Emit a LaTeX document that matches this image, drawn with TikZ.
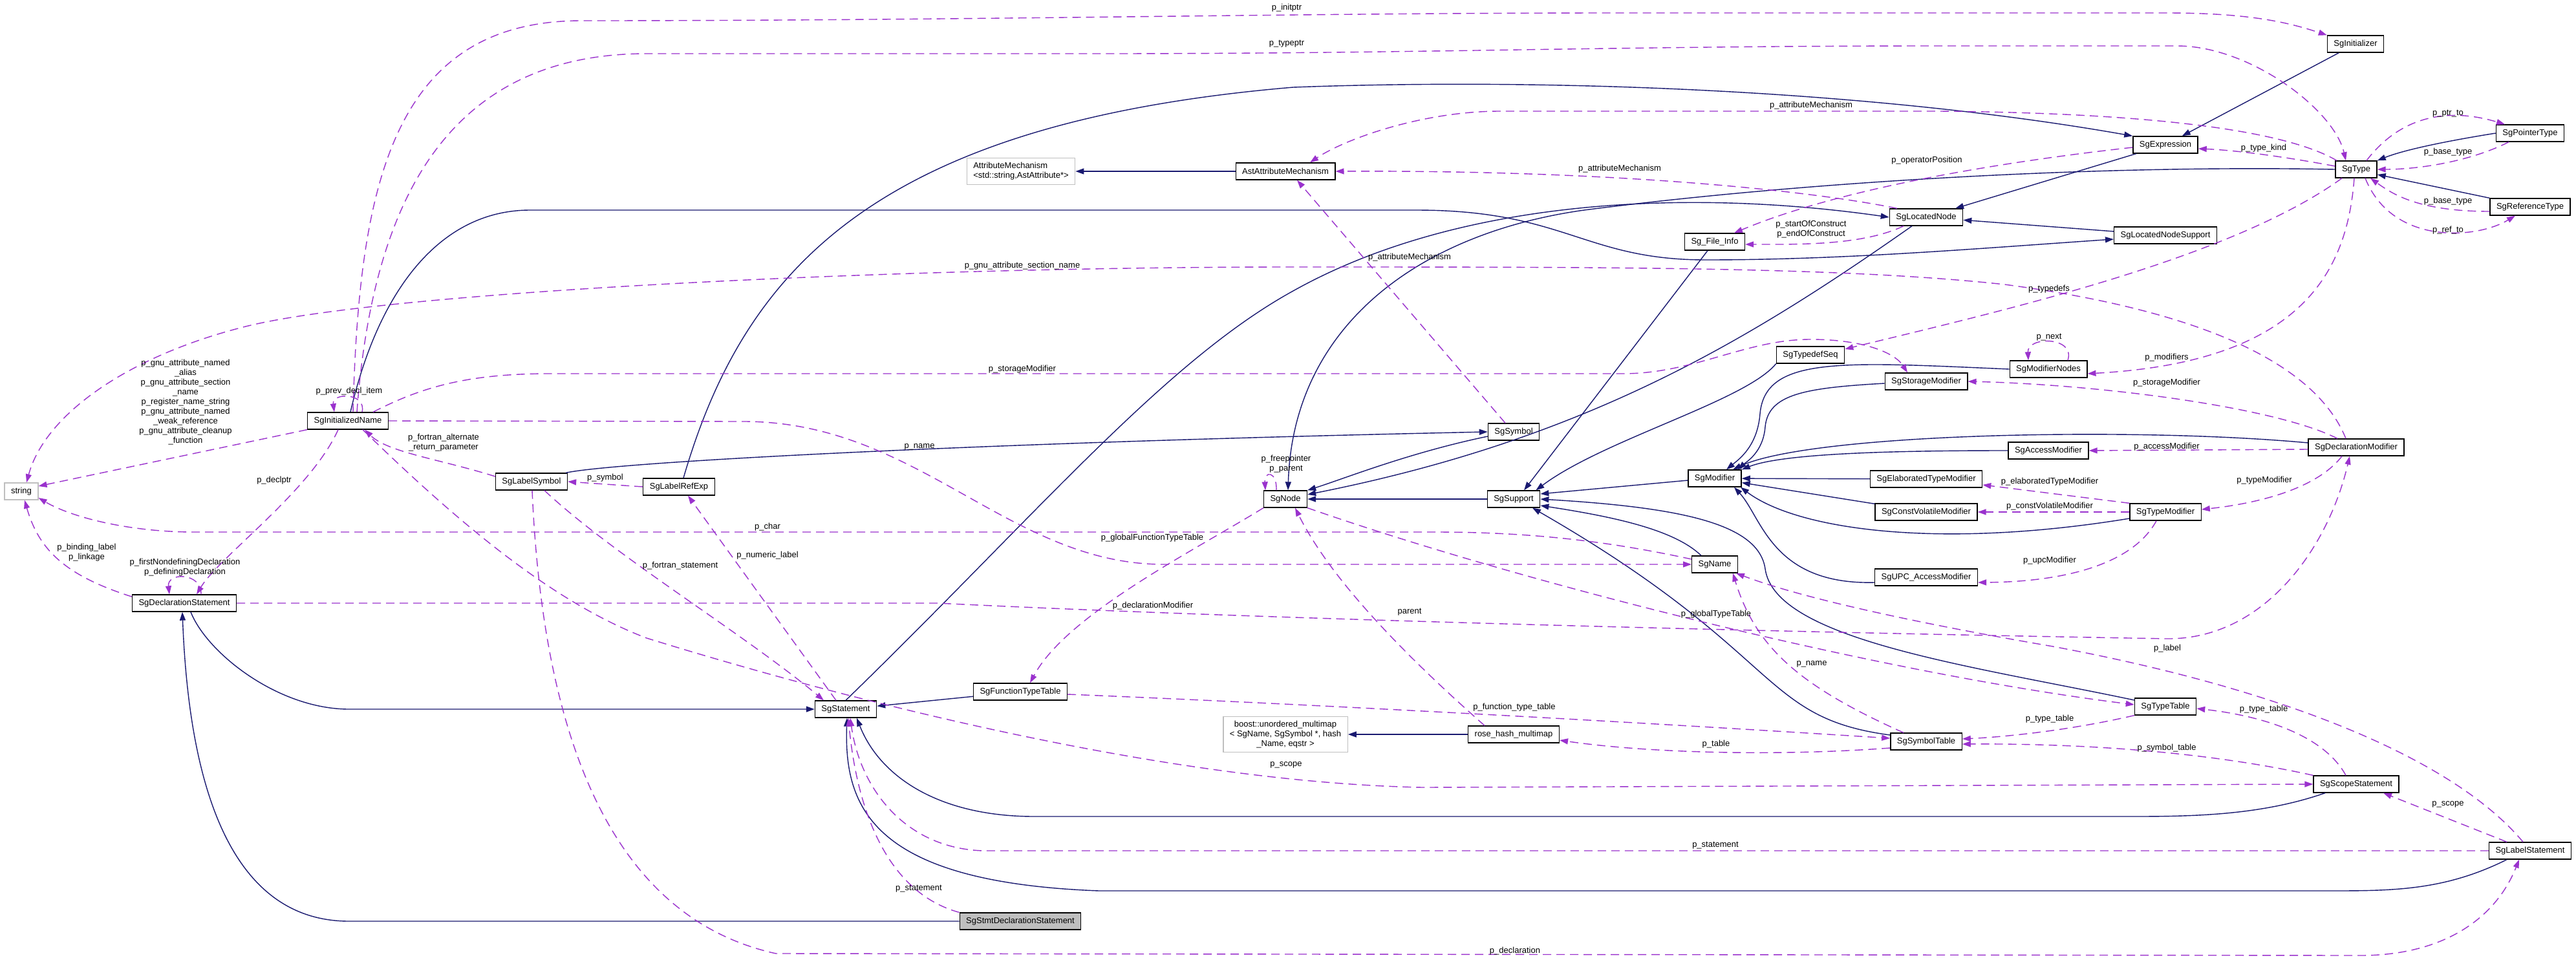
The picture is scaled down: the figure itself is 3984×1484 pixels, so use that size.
\documentclass[tikz,border=0pt]{standalone}
\usepackage{fontspec}
\setmainfont{Liberation Sans}
\usetikzlibrary{arrows.meta}
\definecolor{inhblue}{HTML}{191970}
\definecolor{usepurple}{HTML}{9A32CD}
\definecolor{extgray}{HTML}{BFBFBF}
\begin{document}
\begin{tikzpicture}[x=1pt, y=-1pt, every node/.style={font=\fontsize{13}{15}\selectfont},
  classbox/.style={draw=black, line width=1.3pt, fill=white, inner xsep=10pt, inner ysep=2pt, minimum height=26pt},
  extbox/.style={classbox, draw=extgray},
  focusbox/.style={classbox, fill=extgray},
  inheritedge/.style={draw=inhblue, line width=1.4pt, -{Triangle[length=13pt,width=9pt]}},
  useedge/.style={draw=usepurple, line width=1.4pt, dash pattern=on 13pt off 8pt, -{Triangle[length=13pt,width=9pt]}},
  edgelabel/.style={align=center, inner sep=0pt}]
  \fill[white] (0,0) rectangle (3984,1484);
  \useasboundingbox (0,0) rectangle (3984,1484);

  \node[focusbox] (stmtdecl) at (1578,1425) {SgStmtDeclarationStatement};
  \node[classbox] (declstmt) at (285,933) {SgDeclarationStatement};
  \node[classbox] (stmt) at (1308,1097) {SgStatement};
  \node[classbox] (located) at (2979,336) {SgLocatedNode};
  \node[classbox] (locsupport) at (3349,364) {SgLocatedNodeSupport};
  \node[classbox] (expr) at (3349,224) {SgExpression};
  \node[classbox] (init) at (3643,68) {SgInitializer};
  \node[classbox] (type) at (3644,262) {SgType};
  \node[classbox] (ptrtype) at (3913,206) {SgPointerType};
  \node[classbox] (reftype) at (3913,320) {SgReferenceType};
  \node[classbox] (fileinfo) at (2652,374) {Sg\_File\_Info};
  \node[classbox] (astattr) at (1988,265) {AstAttributeMechanism};
  \node[extbox, align=left, minimum height=41pt] (attrmech) at (1579,265) {AttributeMechanism\\<std::string,AstAttribute*>};
  \node[extbox] (str) at (33,760) {string};
  \node[classbox] (initname) at (538,651) {SgInitializedName};
  \node[classbox] (labelsym) at (822,745) {SgLabelSymbol};
  \node[classbox] (labelref) at (1050,753) {SgLabelRefExp};
  \node[classbox] (sgnode) at (1988,772) {SgNode};
  \node[classbox] (symbol) at (2341,668) {SgSymbol};
  \node[classbox] (support) at (2341,772) {SgSupport};
  \node[classbox] (typedefseq) at (2800,549) {SgTypedefSeq};
  \node[classbox] (storagemod) at (2979,590) {SgStorageModifier};
  \node[classbox] (modifier) at (2652,740) {SgModifier};
  \node[classbox] (elabmod) at (2979,741) {SgElaboratedTypeModifier};
  \node[classbox] (cvmod) at (2979,792) {SgConstVolatileModifier};
  \node[classbox] (sgname) at (2652,873) {SgName};
  \node[classbox] (upcmod) at (2979,893) {SgUPC\_AccessModifier};
  \node[classbox] (modnodes) at (3168,571) {SgModifierNodes};
  \node[classbox] (accessmod) at (3168,697) {SgAccessModifier};
  \node[classbox] (typemod) at (3349,792) {SgTypeModifier};
  \node[classbox] (declmod) at (3644,692) {SgDeclarationModifier};
  \node[classbox] (functable) at (1578,1070) {SgFunctionTypeTable};
  \node[extbox, align=center, minimum height=55pt] (boostmap) at (1988,1136) {boost::unordered\_multimap\\< SgName, SgSymbol *, hash\\\_Name, eqstr >};
  \node[classbox] (rosemap) at (2341,1136) {rose\_hash\_multimap};
  \node[classbox] (symtable) at (2979,1147) {SgSymbolTable};
  \node[classbox] (typetable) at (3349,1093) {SgTypeTable};
  \node[classbox] (scopestmt) at (3644,1213) {SgScopeStatement};
  \node[classbox] (labelstmt) at (3913,1316) {SgLabelStatement};

  \draw[inheritedge] (stmtdecl.west) -- (540,1425) .. controls (330,1425) and (290,1150) .. ([xshift=-3pt]declstmt.south);
  \draw[inheritedge] ([xshift=10pt]declstmt.south) .. controls (320,1010) and (430,1097) .. (540,1097) -- (stmt.west);
  \draw[inheritedge] (stmt.north) .. controls (1600,800) and (1800,560) .. (2000,450) .. controls (2250,310) and (2600,290) .. (located.west);
  \draw[inheritedge] (expr) -- (located);
  \draw[inheritedge] (locsupport) -- (located);
  \draw[inheritedge] ([xshift=4pt]initname.north) .. controls (585,450) and (680,325) .. (820,325) -- (2190,325) .. controls (2420,325) and (2450,402) .. (2638,402) .. controls (2850,402) and (3050,385) .. ([yshift=-6pt]locsupport.west);
  \draw[inheritedge] (init) -- (expr);
  \draw[inheritedge] ([xshift=-22pt]located.south) .. controls (2700,530) and (2450,680) .. ([yshift=7pt]sgnode.east);
  \draw[inheritedge] (type.west) .. controls (3250,255) and (2800,280) .. (2450,325) .. controls (2200,360) and (2000,500) .. ([xshift=4pt]sgnode.north);
  \draw[inheritedge] ([yshift=-7pt]symbol.west) .. controls (2180,700) and (2080,740) .. (sgnode.north east);
  \draw[inheritedge] (support) -- (sgnode);
  \draw[inheritedge] ([xshift=7pt]labelref.north) .. controls (1150,420) and (1350,190) .. (2000,135) .. controls (2400,120) and (2900,140) .. (expr.north west);
  \draw[inheritedge] ([xshift=-3pt]labelsym.north east) .. controls (950,715) and (1500,685) .. (symbol.west);
  \draw[inheritedge] (ptrtype.west) .. controls (3760,222) and (3710,235) .. (type.north east);
  \draw[inheritedge] (reftype.north west) -- ([yshift=-8pt]type.east);
  \draw[inheritedge] ([xshift=-11pt]fileinfo.south) -- ([xshift=16pt]support.north);
  \draw[inheritedge] (typedefseq.south west) .. controls (2700,620) and (2480,680) .. ([xshift=-7pt]support.north east);
  \draw[inheritedge] ([yshift=-3pt]modifier.west) -- ([yshift=8pt]support.east);
  \draw[inheritedge] (modnodes.west) .. controls (2850,560) and (2730,550) .. (2722,640) .. controls (2718,690) and (2690,710) .. ([xshift=18pt]modifier.north);
  \draw[inheritedge] ([yshift=-3pt]storagemod.west) .. controls (2790,600) and (2735,610) .. (2730,660) .. controls (2727,700) and (2700,715) .. ([xshift=36pt]modifier.north);
  \draw[inheritedge] (accessmod.west) .. controls (2950,697) and (2760,700) .. (modifier.north east);
  \draw[inheritedge] (elabmod) -- (modifier);
  \draw[inheritedge] (cvmod) -- (modifier);
  \draw[inheritedge] ([yshift=-8pt]upcmod.west) .. controls (2740,905) and (2725,800) .. ([xshift=30pt]modifier.south);
  \draw[inheritedge] ([yshift=-10pt]typemod.west) .. controls (3000,850) and (2780,820) .. ([xshift=40pt]modifier.south);
  \draw[inheritedge] ([yshift=7pt]declmod.west) .. controls (3300,660) and (2800,670) .. ([xshift=28pt]modifier.north);
  \draw[inheritedge] ([xshift=-21pt]sgname.north) .. controls (2590,820) and (2500,800) .. ([yshift=-10pt]support.east);
  \draw[inheritedge] (functable) -- (stmt);
  \draw[inheritedge] ([yshift=10pt]symtable.west) .. controls (2720,1110) and (2760,1010) .. ([xshift=29pt]support.south);
  \draw[inheritedge] ([yshift=10pt]typetable.west) .. controls (3050,1030) and (2745,990) .. (2730,880) .. controls (2720,810) and (2600,785) .. (support.east);
  \draw[inheritedge] ([xshift=-48pt]scopestmt.south) .. controls (3500,1260) and (3400,1263) .. (3300,1263) -- (1600,1263) .. controls (1450,1263) and (1360,1200) .. ([xshift=17pt]stmt.south);
  \draw[inheritedge] ([xshift=-36pt]labelstmt.south) .. controls (3780,1378) and (3700,1378) .. (3600,1378) -- (1700,1378) .. controls (1350,1365) and (1305,1250) .. ([xshift=2pt]stmt.south);
  \draw[inheritedge] (rosemap) -- (boostmap);
  \draw[inheritedge] (astattr) -- (attrmech);

  \draw[useedge] ([xshift=8pt]initname.north) .. controls (555,280) and (610,32) .. (900,32) .. controls (1500,32) and (2000,20) .. (2500,20) -- (3350,20) .. controls (3480,20) and (3540,35) .. (init.north west);
  \draw[useedge] ([xshift=14pt]initname.north) .. controls (575,330) and (680,83) .. (1000,83) -- (1700,83) .. controls (2200,83) and (2500,71) .. (3000,71) -- (3367,71) .. controls (3480,71) and (3610,170) .. ([xshift=-16pt]type.north);
  \draw[useedge] ([xshift=-30pt]type.north) .. controls (3540,205) and (3350,175) .. (3000,172) -- (2320,172) .. controls (2200,172) and (2080,215) .. ([xshift=38pt]astattr.north);
  \draw[useedge] ([xshift=-45pt]located.north) .. controls (2800,295) and (2500,263) .. (astattr.east);
  \draw[useedge] ([xshift=-13pt]symbol.north) -- ([xshift=18pt]astattr.south);
  \draw[useedge] ([yshift=-4pt]expr.west) .. controls (3100,250) and (2850,290) .. ([xshift=30pt]fileinfo.north);
  \draw[useedge] ([xshift=-35pt]located.south) .. controls (2880,380) and (2780,378) .. ([yshift=-4pt]fileinfo.east);
  \draw[useedge] ([xshift=-16pt]declmod.north) .. controls (3580,560) and (3400,480) .. (3100,440) .. controls (2850,413) and (2500,413) .. (2000,413) .. controls (1400,413) and (600,450) .. (380,505) .. controls (200,550) and (70,640) .. ([xshift=8pt]str.north);
  \draw[useedge] ([xshift=-22pt]type.south) .. controls (3450,400) and (3100,480) .. ([yshift=9pt]typedefseq.east);
  \draw[useedge] ([xshift=39pt]initname.north) .. controls (650,600) and (720,578) .. (850,578) -- (2510,578) .. controls (2620,578) and (2700,525) .. (2800,525) .. controls (2880,525) and (2930,545) .. ([xshift=-29pt]storagemod.north);
  \draw[useedge] ([xshift=-29pt]declmod.north) .. controls (3520,630) and (3250,595) .. (storagemod.east);
  \draw[useedge] ([xshift=30pt]modnodes.north) .. controls (3210,520) and (3135,520) .. ([xshift=-31pt]modnodes.north);
  \draw[useedge] ([xshift=-3pt]type.south) .. controls (3630,420) and (3560,560) .. ([yshift=-7pt]modnodes.east);
  \draw[useedge] ([yshift=-3pt]declmod.west) -- (accessmod.east);
  \draw[useedge] ([xshift=-22pt]declmod.south) .. controls (3580,760) and (3480,780) .. ([yshift=4pt]typemod.east);
  \draw[useedge] (typemod.north west) -- ([yshift=-9pt]elabmod.east);
  \draw[useedge] (typemod.west) -- (cvmod.east);
  \draw[useedge] ([xshift=-14pt]typemod.south) .. controls (3300,870) and (3200,900) .. ([yshift=-8pt]upcmod.east);
  \draw[useedge] ([xshift=-11pt]labelstmt.north) .. controls (3800,1180) and (3550,1070) .. (3175,1000) .. controls (3000,970) and (2800,930) .. ([xshift=-3pt]sgname.south east);
  \draw[useedge] (declstmt.east) -- (1450,933) .. controls (1900,955) and (2600,975) .. (3350,988) .. controls (3500,990) and (3600,850) .. ([xshift=-10pt]declmod.south);
  \draw[useedge] ([xshift=1pt]labelsym.south) .. controls (840,1150) and (950,1420) .. (1200,1475) -- (3650,1478) .. controls (3780,1478) and (3860,1420) .. ([xshift=-17pt]labelstmt.south);
  \draw[useedge] (labelstmt.west) -- (1520,1316) .. controls (1400,1312) and (1330,1220) .. ([xshift=7pt]stmt.south);
  \draw[useedge] (stmtdecl.north west) .. controls (1370,1380) and (1325,1250) .. ([xshift=4pt]stmt.south);
  \draw[useedge] ([xshift=-36pt]labelstmt.north) -- ([xshift=42pt]scopestmt.south);
  \draw[useedge] ([xshift=23pt]initname.south) .. controls (700,800) and (850,930) .. (1000,987) .. controls (1300,1080) and (1800,1210) .. (2200,1218) -- (scopestmt.west);
  \draw[useedge] ([xshift=-15pt]initname.south) .. controls (480,760) and (340,860) .. ([xshift=19pt]declstmt.north);
  \draw[useedge] ([xshift=26pt]declstmt.north) .. controls (312,885) and (258,885) .. ([xshift=-23pt]declstmt.north);
  \draw[useedge] ([yshift=10pt]declstmt.west) .. controls (100,890) and (60,850) .. ([xshift=5pt]str.south);
  \draw[useedge] (initname.south west) -- ([yshift=8pt]str.east);
  \draw[useedge] ([yshift=8pt]sgname.west) .. controls (2500,840) and (2380,823) .. (2220,823) -- (300,823) .. controls (200,823) and (110,800) .. ([yshift=-10pt]str.east);
  \draw[useedge] (initname.east) -- (1150,652) .. controls (1420,652) and (1560,873) .. (1800,873) -- (sgname.west);
  \draw[useedge] ([xshift=-35pt]symtable.north) .. controls (2780,1060) and (2715,1000) .. ([xshift=-8pt]sgname.south east);
  \draw[useedge] (sgnode.south east) .. controls (2350,900) and (2900,1040) .. ([yshift=3pt]typetable.west);
  \draw[useedge] ([xshift=-45pt]rosemap.north) .. controls (2180,1020) and (2060,900) .. ([xshift=15pt]sgnode.south);
  \draw[useedge] (sgnode.south west) .. controls (1850,850) and (1650,950) .. ([xshift=15pt]functable.north);
  \draw[useedge] ([yshift=-4pt]functable.east) .. controls (2000,1088) and (2500,1115) .. ([yshift=5pt]symtable.west);
  \draw[useedge] ([yshift=-10pt]symtable.west) .. controls (2750,1170) and (2550,1165) .. ([yshift=-9pt]rosemap.east);
  \draw[useedge] (typetable.south west) .. controls (3200,1130) and (3100,1140) .. ([yshift=4pt]symtable.east);
  \draw[useedge] (scopestmt.north west) .. controls (3400,1160) and (3200,1150) .. ([yshift=-4pt]symtable.east);
  \draw[useedge] ([xshift=-16pt]scopestmt.north) .. controls (3590,1130) and (3480,1105) .. ([yshift=-3pt]typetable.east);
  \draw[useedge] ([yshift=5pt]type.west) .. controls (3520,240) and (3450,232) .. ([yshift=-6pt]expr.east);
  \draw[useedge] ([xshift=16pt]type.north) .. controls (3720,170) and (3800,170) .. ([xshift=-39pt]ptrtype.north);
  \draw[useedge] ([xshift=-33pt]ptrtype.south) .. controls (3820,250) and (3740,262) .. (type.east);
  \draw[useedge] ([yshift=-7pt]reftype.west) .. controls (3740,327) and (3700,300) .. ([xshift=22pt]type.south);
  \draw[useedge] ([xshift=14pt]type.south) .. controls (3700,380) and (3830,370) .. ([xshift=-23pt]reftype.south);
  \draw[useedge] ([yshift=8pt]labelsym.west) .. controls (680,710) and (600,700) .. ([xshift=26pt]initname.south);
  \draw[useedge] (labelref.west) -- (labelsym.east);
  \draw[useedge] ([xshift=20pt]labelsym.south) .. controls (950,860) and (1150,980) .. ([xshift=-34pt]stmt.north);
  \draw[useedge] ([xshift=-15pt]stmt.north) -- ([xshift=14pt]labelref.south);
  \draw[useedge] ([xshift=22pt]initname.north) .. controls (567,607) and (513,607) .. ([xshift=-21pt]initname.north);
  \draw[useedge] ([xshift=-14pt]sgnode.north) .. controls (1975,728) and (1955,728) .. ([xshift=-31pt]sgnode.north);

  \node[edgelabel] (l-initptr) at (1990,12) {p\_initptr};
  \node[edgelabel] (l-typeptr) at (1990,68) {p\_typeptr};
  \node[edgelabel] (l-attr1) at (2801,163) {p\_attributeMechanism};
  \node[edgelabel] (l-attr2) at (2505,261) {p\_attributeMechanism};
  \node[edgelabel] (l-attr3) at (2180,398) {p\_attributeMechanism};
  \node[edgelabel] (l-oppos) at (2980,248) {p\_operatorPosition};
  \node[edgelabel] (l-construct) at (2801,355) {p\_startOfConstruct\\p\_endOfConstruct};
  \node[edgelabel] (l-section) at (1581,411) {p\_gnu\_attribute\_section\_name};
  \node[edgelabel] (l-typedefs) at (3169,447) {p\_typedefs};
  \node[edgelabel] (l-storage1) at (1581,571) {p\_storageModifier};
  \node[edgelabel] (l-storage2) at (3351,592) {p\_storageModifier};
  \node[edgelabel] (l-next) at (3169,522) {p\_next};
  \node[edgelabel] (l-modifiers) at (3351,553) {p\_modifiers};
  \node[edgelabel] (l-access) at (3351,691) {p\_accessModifier};
  \node[edgelabel] (l-typemod) at (3502,743) {p\_typeModifier};
  \node[edgelabel] (l-elab) at (3170,745) {p\_elaboratedTypeModifier};
  \node[edgelabel] (l-cv) at (3170,783) {p\_constVolatileModifier};
  \node[edgelabel] (l-upc) at (3170,867) {p\_upcModifier};
  \node[edgelabel] (l-label) at (3352,1003) {p\_label};
  \node[edgelabel] (l-declmod) at (1783,937) {p\_declarationModifier};
  \node[edgelabel] (l-declaration) at (2343,1471) {p\_declaration};
  \node[edgelabel] (l-stmt1) at (2653,1308) {p\_statement};
  \node[edgelabel] (l-stmt2) at (1421,1375) {p\_statement};
  \node[edgelabel] (l-scope1) at (3786,1244) {p\_scope};
  \node[edgelabel] (l-scope2) at (1989,1183) {p\_scope};
  \node[edgelabel] (l-declptr) at (424,743) {p\_declptr};
  \node[edgelabel] (l-defdecl) at (286,878) {p\_firstNondefiningDeclaration\\p\_definingDeclaration};
  \node[edgelabel] (l-binding) at (134,855) {p\_binding\_label\\p\_linkage};
  \node[edgelabel] (l-gnu) at (287,622) {p\_gnu\_attribute\_named\\\_alias\\p\_gnu\_attribute\_section\\\_name\\p\_register\_name\_string\\p\_gnu\_attribute\_named\\\_weak\_reference\\p\_gnu\_attribute\_cleanup\\\_function};
  \node[edgelabel] (l-char) at (1187,815) {p\_char};
  \node[edgelabel] (l-name1) at (1422,691) {p\_name};
  \node[edgelabel] (l-name2) at (2802,1027) {p\_name};
  \node[edgelabel] (l-gtypetable) at (2654,950) {p\_globalTypeTable};
  \node[edgelabel] (l-gfunctable) at (1782,832) {p\_globalFunctionTypeTable};
  \node[edgelabel] (l-parent) at (2180,947) {parent};
  \node[edgelabel] (l-functable) at (2342,1094) {p\_function\_type\_table};
  \node[edgelabel] (l-table) at (2654,1151) {p\_table};
  \node[edgelabel] (l-typetable1) at (3170,1112) {p\_type\_table};
  \node[edgelabel] (l-symtable) at (3351,1157) {p\_symbol\_table};
  \node[edgelabel] (l-typetable2) at (3501,1097) {p\_type\_table};
  \node[edgelabel] (l-typekind) at (3501,229) {p\_type\_kind};
  \node[edgelabel] (l-ptrto) at (3786,176) {p\_ptr\_to};
  \node[edgelabel] (l-base1) at (3786,235) {p\_base\_type};
  \node[edgelabel] (l-base2) at (3786,311) {p\_base\_type};
  \node[edgelabel] (l-refto) at (3786,356) {p\_ref\_to};
  \node[edgelabel] (l-altret) at (686,685) {p\_fortran\_alternate\\\_return\_parameter};
  \node[edgelabel] (l-symbol) at (936,739) {p\_symbol};
  \node[edgelabel] (l-fortran) at (1052,875) {p\_fortran\_statement};
  \node[edgelabel] (l-numeric) at (1187,859) {p\_numeric\_label};
  \node[edgelabel] (l-prevdecl) at (540,605) {p\_prev\_decl\_item};
  \node[edgelabel] (l-free) at (1989,718) {p\_freepointer\\p\_parent};
\end{tikzpicture}
\end{document}
